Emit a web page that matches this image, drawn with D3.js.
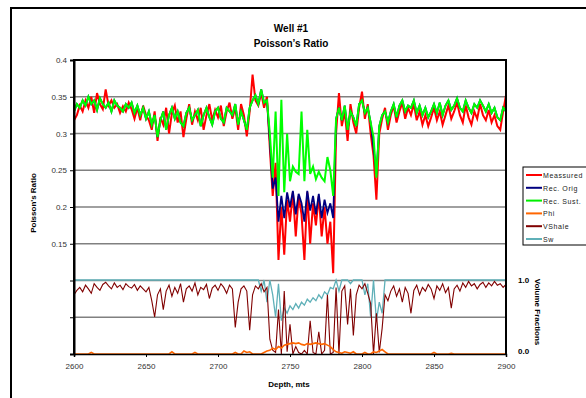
<!DOCTYPE html>
<html><head><meta charset="utf-8">
<script src="https://cdn.jsdelivr.net/npm/d3@7"></script>
<style>body{margin:0;background:#fff}svg{display:block}</style>
</head><body>
<svg id="c" width="586" height="398"></svg>
<script>
const depthStart = 2600, depthStep = 2;
const measured = [
0.318,0.325,0.338,0.330,0.345,0.335,0.350,0.328,0.355,0.340,
0.333,0.360,0.338,0.345,0.335,0.340,0.328,0.337,0.330,0.342,
0.333,0.320,0.335,0.318,0.338,0.325,0.318,0.305,0.330,0.290,
0.322,0.312,0.335,0.300,0.328,0.338,0.315,0.330,0.295,0.320,
0.340,0.312,0.330,0.318,0.335,0.305,0.325,0.340,0.318,0.332,
0.322,0.338,0.310,0.330,0.342,0.320,0.335,0.305,0.340,0.325,
0.296,0.330,0.380,0.345,0.338,0.355,0.335,0.350,0.280,0.215,
0.260,0.128,0.200,0.135,0.210,0.180,0.220,0.160,0.215,0.190,
0.128,0.220,0.150,0.205,0.175,0.215,0.160,0.200,0.150,0.180,
0.110,0.300,0.355,0.310,0.330,0.290,0.340,0.315,0.300,0.335,
0.357,0.320,0.340,0.300,0.270,0.210,0.300,0.320,0.335,0.305,
0.325,0.338,0.315,0.330,0.342,0.320,0.335,0.325,0.340,0.318,
0.330,0.312,0.325,0.310,0.322,0.335,0.318,0.330,0.312,0.325,
0.338,0.320,0.330,0.342,0.325,0.315,0.338,0.322,0.312,0.330,
0.320,0.340,0.325,0.318,0.332,0.315,0.325,0.310,0.305,0.330,
0.352];
const recOrig = [
0.330,0.340,0.335,0.345,0.338,0.350,0.340,0.345,0.332,0.348,
0.340,0.335,0.342,0.330,0.345,0.338,0.335,0.330,0.340,0.335,
0.342,0.328,0.338,0.325,0.335,0.320,0.330,0.312,0.325,0.295,
0.318,0.330,0.305,0.325,0.335,0.320,0.330,0.315,0.310,0.328,
0.335,0.318,0.325,0.332,0.310,0.325,0.335,0.322,0.312,0.330,
0.335,0.320,0.315,0.335,0.330,0.325,0.340,0.312,0.330,0.318,
0.305,0.335,0.345,0.352,0.340,0.360,0.342,0.345,0.290,0.225,
0.240,0.180,0.215,0.185,0.220,0.200,0.222,0.190,0.218,0.205,
0.180,0.222,0.195,0.215,0.190,0.218,0.185,0.210,0.192,0.205,
0.185,0.320,0.335,0.318,0.338,0.305,0.330,0.322,0.310,0.340,
0.345,0.328,0.335,0.315,0.280,0.245,0.310,0.325,0.330,0.315,
0.330,0.340,0.322,0.338,0.345,0.330,0.338,0.335,0.345,0.328,
0.338,0.325,0.335,0.322,0.330,0.340,0.328,0.342,0.325,0.338,
0.345,0.332,0.338,0.348,0.335,0.330,0.345,0.335,0.328,0.340,
0.335,0.345,0.338,0.330,0.340,0.328,0.335,0.322,0.318,0.335,
0.330];
const recSust = [
0.330,0.340,0.335,0.345,0.338,0.350,0.340,0.345,0.332,0.348,
0.340,0.335,0.342,0.330,0.345,0.338,0.335,0.330,0.340,0.335,
0.342,0.328,0.338,0.325,0.335,0.320,0.330,0.312,0.325,0.295,
0.318,0.330,0.305,0.325,0.335,0.320,0.330,0.315,0.310,0.328,
0.335,0.318,0.325,0.332,0.310,0.325,0.335,0.322,0.312,0.330,
0.335,0.320,0.315,0.335,0.330,0.325,0.340,0.312,0.330,0.318,
0.305,0.335,0.345,0.352,0.340,0.360,0.342,0.345,0.300,0.240,
0.330,0.215,0.346,0.220,0.300,0.235,0.255,0.248,0.245,0.330,
0.235,0.305,0.245,0.255,0.238,0.248,0.240,0.235,0.268,0.250,
0.215,0.320,0.335,0.318,0.338,0.305,0.330,0.322,0.310,0.340,
0.345,0.328,0.335,0.315,0.295,0.240,0.310,0.325,0.330,0.315,
0.330,0.340,0.322,0.338,0.345,0.330,0.338,0.335,0.345,0.328,
0.338,0.325,0.335,0.322,0.330,0.340,0.328,0.342,0.325,0.338,
0.345,0.332,0.338,0.348,0.335,0.330,0.345,0.335,0.328,0.340,
0.335,0.345,0.338,0.330,0.340,0.328,0.335,0.322,0.318,0.335,
0.330];
const phi = [
0,0,0,0,0,0,0.02,0,0,0,
0,0,0,0,0,0,0,0,0,0,
0,0,0,0,0,0,0,0,0,0,
0,0,0,0,0.03,0,0,0,0,0,
0,0,0.02,0,0,0,0,0,0,0,
0,0,0,0,0,0,0.02,0,0,0.04,
0.02,0.03,0,0,0,0,0.02,0.04,0.05,0.08,
0.06,0.10,0.08,0.12,0.13,0.14,0.15,0.14,0.15,0.13,
0.12,0.14,0.13,0.14,0.15,0.14,0.13,0.14,0.12,0.10,
0.06,0.03,0.02,0.01,0.03,0.02,0.01,0.03,0,0,
0,0.02,0,0,0.03,0.02,0.04,0.06,0.03,0,
0,0,0,0,0,0,0,0,0,0,
0,0,0,0,0,0.02,0,0,0,0,
0,0.01,0,0,0,0,0,0,0,0,
0,0,0,0,0,0,0,0,0,0,
0];
const vshale = [
0.80,0.86,0.90,0.84,0.93,0.88,0.82,0.95,0.90,0.86,
0.94,0.97,0.92,0.88,0.96,0.90,0.93,0.87,0.95,0.91,
0.89,0.94,0.86,0.92,0.88,0.84,0.90,0.72,0.50,0.80,
0.88,0.60,0.85,0.93,0.78,0.90,0.82,0.95,0.70,0.88,
0.92,0.85,0.96,0.80,0.90,0.87,0.94,0.75,0.89,0.93,
0.86,0.95,0.90,0.82,0.93,0.88,0.36,0.70,0.88,0.92,
0.85,0.32,0.80,0.92,0.88,0.95,0.84,0.90,0.20,0.05,
0.02,0.60,0.00,0.85,0.03,0.40,0.00,0.10,0.02,0.00,
0.05,0.00,0.45,0.02,0.00,0.30,0.00,0.05,0.80,0.00,
0.02,0.90,0.00,0.85,0.92,0.40,0.88,0.25,0.80,0.93,
0.88,0.95,0.82,0.68,0.00,0.55,0.02,0.35,0.80,0.72,
0.85,0.92,0.78,0.88,0.70,0.90,0.82,0.55,0.86,0.93,
0.80,0.90,0.85,0.94,0.88,0.75,0.92,0.86,0.95,0.83,
0.90,0.62,0.88,0.93,0.85,0.96,0.90,0.98,0.92,0.95,
0.88,0.94,0.97,0.90,0.96,0.92,0.98,0.93,0.95,0.90,
0.94];
const sw = [
1,1,1,1,1,1,1,1,1,1,
1,1,1,1,1,1,1,1,1,1,
1,1,1,1,1,1,1,1,1,1,
1,1,1,1,1,1,1,1,1,1,
1,1,1,1,1,1,1,1,1,1,
1,1,1,1,1,1,1,1,1,1,
1,1,1,1,1,0.85,1,0.70,1,0.80,
0.50,0.95,0.45,0.62,0.55,0.65,0.60,0.68,0.62,0.70,
0.66,0.74,0.70,0.76,0.72,0.80,0.75,0.84,0.80,0.90,
0.88,1,0.85,1,1,1,0.95,1,1,1,
1,0.80,0.95,0.50,1,0.45,0.70,0.55,1,1,
1,1,1,1,1,1,1,1,1,1,
1,1,1,1,1,1,1,1,1,1,
1,1,1,1,1,1,1,1,1,1,
1,1,1,1,1,1,1,1,1,1,
1];
const prTicks = [0.15, 0.2, 0.25, 0.3, 0.35, 0.4];
const gridVals = [0.05, 0.1, 0.15, 0.2, 0.25, 0.3, 0.35];
const depthTicks = [2600, 2650, 2700, 2750, 2800, 2850, 2900];
const legendNames = ["Meassured", "Rec. Orig", "Rec. Sust.", "Phi", "VShale", "Sw"];
const legendColors = ["#ff0000", "#000080", "#00ee00", "#ff6600", "#800000", "#5fb0b8"];

const svg = d3.select("#c");
const L = 74, R = 506, T = 60, B = 354;
const x = d3.scaleLinear().domain([2600, 2900]).range([L, R]);
const yP = d3.scaleLinear().domain([0, 0.4]).range([B, T]);
const yV = d3.scaleLinear().domain([0, 1]).range([B, 280]);
const font = "Liberation Sans, Arial, sans-serif";

// outer border
svg.append("rect").attr("x", 11).attr("y", 8).attr("width", 620).attr("height", 420)
  .attr("fill", "none").attr("stroke", "#000").attr("stroke-width", 2);

// gridlines
svg.append("g").selectAll("line").data(gridVals).join("line")
  .attr("x1", L).attr("x2", R).attr("y1", d => yP(d)).attr("y2", d => yP(d))
  .attr("stroke", "#808080").attr("stroke-width", 1.5);

svg.append("defs").append("clipPath").attr("id", "clip")
  .append("rect").attr("x", L).attr("y", T).attr("width", R - L).attr("height", B - T);

const depth = (i) => depthStart + i * depthStep;
const lineP = d3.line().x((d, i) => x(depth(i))).y(d => yP(d));
const lineV = d3.line().x((d, i) => x(depth(i))).y(d => yV(d));
const g = svg.append("g").attr("clip-path", "url(#clip)");

g.append("path").attr("d", lineV(sw)).attr("fill", "none").attr("stroke", legendColors[5]).attr("stroke-width", 1.3);
g.append("path").attr("d", lineV(vshale)).attr("fill", "none").attr("stroke", legendColors[4]).attr("stroke-width", 1.1);
g.append("path").attr("d", lineV(phi)).attr("fill", "none").attr("stroke", legendColors[3]).attr("stroke-width", 1.6);
g.append("path").attr("d", lineP(measured)).attr("fill", "none").attr("stroke", legendColors[0]).attr("stroke-width", 2);
g.append("path").attr("d", lineP(recOrig)).attr("fill", "none").attr("stroke", legendColors[1]).attr("stroke-width", 1.8);
g.append("path").attr("d", lineP(recSust)).attr("fill", "none").attr("stroke", "#00ff00").attr("stroke-width", 2);

// frame
svg.append("path").attr("d", `M${L},${B}V${T}H${R}V${B}`).attr("fill", "none")
  .attr("stroke", "#000").attr("stroke-width", 2);

// left axis
const yAxis = d3.axisLeft(yP).tickValues([0, 0.05, 0.1, 0.15, 0.2, 0.25, 0.3, 0.35, 0.4])
  .tickSize(4).tickFormat(d => prTicks.some(p => Math.abs(p - d) < 1e-9) ? String(+d.toFixed(2)) : "");
const ya = svg.append("g").attr("transform", `translate(${L},0)`).call(yAxis);
ya.select(".domain").attr("stroke", "#000").attr("stroke-width", 2);
ya.selectAll("text").attr("font-family", font).attr("font-size", 8).attr("fill", "#333");

// bottom axis
const xAxis = d3.axisBottom(x).tickValues(depthTicks).tickSize(3).tickFormat(d3.format("d"));
const xa = svg.append("g").attr("transform", `translate(0,${B})`).call(xAxis);
xa.select(".domain").attr("stroke", "#000").attr("stroke-width", 1.5);
xa.selectAll("text").attr("font-family", font).attr("font-size", 8).attr("fill", "#333").attr("dy", "1.1em");

// titles
svg.append("text").attr("x", 291).attr("y", 32).attr("text-anchor", "middle")
  .attr("font-family", font).attr("font-weight", "bold").attr("font-size", 10).text("Well #1");
svg.append("text").attr("x", 291).attr("y", 47).attr("text-anchor", "middle")
  .attr("font-family", font).attr("font-weight", "bold").attr("font-size", 10).text("Poisson\u2019s Ratio");
svg.append("text").attr("transform", "translate(36,203) rotate(-90)").attr("text-anchor", "middle")
  .attr("font-family", font).attr("font-weight", "bold").attr("font-size", 8).text("Poisson's Ratio");
svg.append("text").attr("x", 289).attr("y", 387).attr("text-anchor", "middle")
  .attr("font-family", font).attr("font-weight", "bold").attr("font-size", 8).text("Depth, mts");

// right labels
svg.append("text").attr("x", 518).attr("y", yV(1) + 3).attr("font-family", font).attr("font-weight", "bold")
  .attr("font-size", 8).text("1.0");
svg.append("text").attr("x", 518).attr("y", yV(0) + 0).attr("font-family", font).attr("font-weight", "bold")
  .attr("font-size", 8).text("0.0");
svg.append("text").attr("transform", "translate(535,312) rotate(90)").attr("text-anchor", "middle")
  .attr("font-family", font).attr("font-weight", "bold").attr("font-size", 8).text("Volume Fractions");

// legend
const lg = svg.append("g");
lg.append("rect").attr("x", 523).attr("y", 167).attr("width", 80).attr("height", 78)
  .attr("fill", "#fff").attr("stroke", "#000").attr("stroke-width", 1);
const ly = d3.scaleLinear().domain([0, 5]).range([175, 239]);
legendNames.forEach((n, i) => {
  lg.append("line").attr("x1", 526).attr("x2", 542).attr("y1", ly(i)).attr("y2", ly(i))
    .attr("stroke", legendColors[i]).attr("stroke-width", 2);
  lg.append("text").attr("x", 543).attr("y", ly(i) + 3).attr("font-family", font)
    .attr("font-size", 7).attr("letter-spacing", 0.6).attr("fill", "#222").text(n);
});
</script>
</body></html>
